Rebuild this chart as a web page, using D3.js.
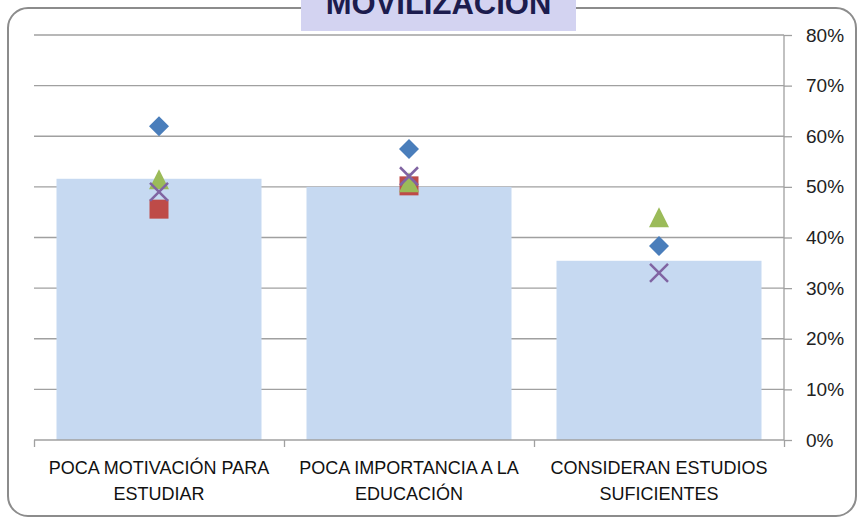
<!DOCTYPE html>
<html>
<head>
<meta charset="utf-8">
<script src="https://cdn.jsdelivr.net/npm/d3@7"></script>
<style>
  html, body { margin: 0; padding: 0; background: #fff; }
  svg { display: block; }
</style>
</head>
<body>
<div id="chart"></div>
<script>
// Data.
var categories = [
    ["POCA MOTIVACIÓN PARA", "ESTUDIAR"],
    ["POCA IMPORTANCIA A LA", "EDUCACIÓN"],
    ["CONSIDERAN ESTUDIOS", "SUFICIENTES"]
];
var barValues = [0.516, 0.500, 0.354];
var diamondValues = [0.620, 0.575, 0.383];
var squareValues = [0.456, 0.502, null];
var triangleValues = [0.515, 0.509, 0.440];
var crossValues = [0.490, 0.521, 0.330];
var yTicks = [0, 0.1, 0.2, 0.3, 0.4, 0.5, 0.6, 0.7, 0.8];
var title = "MOVILIZACION";

var width = 861, height = 519;
var plot = { left: 34, right: 784, top: 35, bottom: 440 };

var svg = d3.select("#chart").append("svg")
    .attr("width", width)
    .attr("height", height);

// Rounded frame.
svg.append("rect")
    .attr("x", 8).attr("y", 8)
    .attr("width", 848).attr("height", 508)
    .attr("rx", 20).attr("ry", 20)
    .attr("fill", "#fff")
    .attr("stroke", "#8c8c8c")
    .attr("stroke-width", 2);

// Scales.
var idx = d3.range(categories.length);
var x = d3.scaleBand()
    .domain(idx)
    .range([plot.left, plot.right])
    .paddingInner(0.18)
    .paddingOuter(0.09);
var xEdge = d3.scaleLinear()
    .domain([0, categories.length])
    .range([plot.left, plot.right]);
var y = d3.scaleLinear()
    .domain([0, 0.8])
    .range([plot.bottom, plot.top]);

// Gridlines.
svg.append("g").selectAll("line")
    .data(yTicks.slice(1))
    .join("line")
    .attr("x1", plot.left)
    .attr("x2", plot.right)
    .attr("y1", d => y(d))
    .attr("y2", d => y(d))
    .attr("stroke", "#a0a0a0")
    .attr("stroke-width", 1.3);

// Bars.
svg.append("g").selectAll("rect")
    .data(barValues)
    .join("rect")
    .attr("x", (d, i) => x(i))
    .attr("y", d => y(d))
    .attr("width", x.bandwidth())
    .attr("height", d => y(0) - y(d))
    .attr("fill", "#c6d9f1");

// Right y axis.
var yAxis = svg.append("g")
    .attr("transform", `translate(${plot.right},0)`)
    .call(d3.axisRight(y).tickValues(yTicks).tickSize(8).tickPadding(14)
        .tickFormat(d3.format(".0%")));
yAxis.select(".domain").attr("stroke", "#a0a0a0").attr("stroke-width", 1.3)
    .attr("d", `M0,${plot.top}V${plot.bottom}`);
yAxis.selectAll(".tick line").attr("stroke", "#a0a0a0").attr("stroke-width", 1.3);
yAxis.selectAll(".tick text")
    .attr("font-family", "'Liberation Sans', Arial, sans-serif")
    .attr("font-size", 19)
    .attr("fill", "#222");

// Bottom x axis (ticks on category boundaries).
var xAxis = svg.append("g")
    .attr("transform", `translate(0,${plot.bottom})`)
    .call(d3.axisBottom(xEdge).tickValues(d3.range(categories.length + 1))
        .tickSize(7).tickFormat(""));
xAxis.select(".domain").attr("stroke", "#a0a0a0").attr("stroke-width", 1.3)
    .attr("d", `M${plot.left},0H${plot.right}`);
xAxis.selectAll(".tick line").attr("stroke", "#a0a0a0").attr("stroke-width", 1.3);

// Category labels.
var labels = svg.append("g").selectAll("text")
    .data(categories)
    .join("text")
    .attr("x", (d, i) => x(i) + x.bandwidth() / 2)
    .attr("y", 474)
    .attr("text-anchor", "middle")
    .attr("font-family", "'Liberation Sans', Arial, sans-serif")
    .attr("font-size", 18)
    .attr("fill", "#111");
labels.selectAll("tspan")
    .data(d => d)
    .join("tspan")
    .attr("x", function() { return d3.select(this.parentNode).attr("x"); })
    .attr("dy", (d, i) => i === 0 ? 0 : 26)
    .text(d => d);

// Marker shapes, centred on their bounding box.
var diamond = { draw: function(ctx, s) {
    ctx.moveTo(0, -s); ctx.lineTo(s, 0); ctx.lineTo(0, s); ctx.lineTo(-s, 0); ctx.closePath();
} };
var square = { draw: function(ctx, s) {
    ctx.moveTo(-s, -s); ctx.lineTo(s, -s); ctx.lineTo(s, s); ctx.lineTo(-s, s); ctx.closePath();
} };
var triangle = { draw: function(ctx, s) {
    ctx.moveTo(0, -s); ctx.lineTo(s, s); ctx.lineTo(-s, s); ctx.closePath();
} };
var cross = { draw: function(ctx, s) {
    ctx.moveTo(-s, -s); ctx.lineTo(s, s); ctx.moveTo(s, -s); ctx.lineTo(-s, s);
} };

var series = [
    { values: diamondValues, type: diamond, r: 10, fill: "#4a7ebb" },
    { values: squareValues, type: square, r: 9.5, fill: "#be4b48" },
    { values: triangleValues, type: triangle, r: 10, fill: "#9bbb59" },
    { values: crossValues, type: cross, r: 9, fill: "none", stroke: "#8064a2" }
];

series.forEach(function(s) {
    svg.append("g").selectAll("path")
        .data(s.values.map((v, i) => ({ v: v, i: i })).filter(d => d.v != null))
        .join("path")
        .attr("transform", d => `translate(${x(d.i) + x.bandwidth() / 2},${y(d.v)})`)
        .attr("d", d3.symbol().type(s.type).size(s.r))
        .attr("fill", s.fill)
        .attr("stroke", s.stroke || "none")
        .attr("stroke-width", 2.5);
});

// Title box, cut at the top edge.
svg.append("rect")
    .attr("x", 301).attr("y", -2)
    .attr("width", 275).attr("height", 33)
    .attr("fill", "#d3d3f1");
svg.append("text")
    .attr("x", 438.5)
    .attr("y", 14)
    .attr("text-anchor", "middle")
    .attr("font-family", "'Liberation Sans', Arial, sans-serif")
    .attr("font-weight", "bold")
    .attr("font-size", 31)
    .attr("fill", "#1c1c4e")
    .text(title);
</script>
</body>
</html>
